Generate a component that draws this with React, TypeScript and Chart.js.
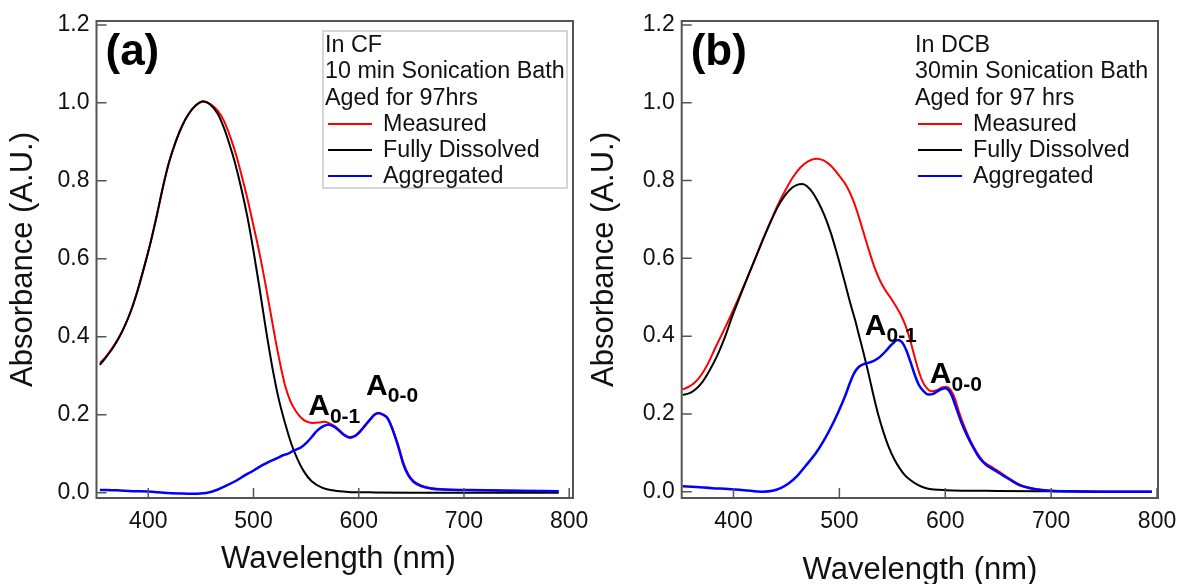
import React, { useEffect, useRef } from "react";
import { Chart, registerables } from "chart.js";

Chart.register(...registerables);

// ---------- Panel (a): In CF ----------
const aMeasuredX = [354, 360, 366, 372, 378, 384, 390, 396, 402, 408, 414, 420, 426, 432, 438, 445, 452, 459, 466, 472, 478, 484, 490, 495, 500, 506, 511, 516, 521, 525, 530, 535, 540, 545, 550, 556, 562, 567, 572, 577, 581, 586, 591, 596, 601, 606, 611, 615, 619, 623, 627, 631, 635, 639, 642, 647, 652, 660, 668, 680, 700, 750, 780, 790];
const aMeasuredY = [0.332, 0.35, 0.372, 0.398, 0.43, 0.47, 0.52, 0.578, 0.64, 0.71, 0.785, 0.85, 0.9, 0.94, 0.97, 0.993, 1.003, 0.997, 0.98, 0.953, 0.912, 0.862, 0.8, 0.745, 0.685, 0.61, 0.54, 0.465, 0.39, 0.335, 0.275, 0.235, 0.21, 0.193, 0.183, 0.179, 0.18, 0.182, 0.178, 0.171, 0.162, 0.15, 0.143, 0.146, 0.157, 0.173, 0.189, 0.201, 0.205, 0.201, 0.193, 0.172, 0.142, 0.108, 0.08, 0.048, 0.03, 0.018, 0.012, 0.009, 0.007, 0.005, 0.003, 0.004];

const aDissolvedX = [354, 360, 366, 372, 378, 384, 390, 396, 402, 408, 414, 420, 426, 432, 438, 445, 452, 459, 466, 472, 477, 482, 488, 494, 500, 506, 512, 518, 524, 530, 536, 542, 548, 555, 565, 575, 590, 610, 650, 700, 750, 790];
const aDissolvedY = [0.328, 0.348, 0.37, 0.397, 0.43, 0.47, 0.52, 0.578, 0.64, 0.71, 0.785, 0.85, 0.9, 0.94, 0.97, 0.993, 1.004, 0.995, 0.972, 0.935, 0.895, 0.85, 0.785, 0.71, 0.62, 0.52, 0.415, 0.32, 0.24, 0.178, 0.125, 0.085, 0.054, 0.03, 0.013, 0.006, 0.002, 0.001, 0.0, 0.0, 0.0, 0.0];

const aAggregatedX = [354, 370, 385, 400, 415, 430, 442, 455, 465, 474, 483, 491, 500, 508, 515, 522, 528, 533, 538, 545, 551, 556, 560, 566, 571, 576, 581, 586, 592, 597, 601, 606, 611, 615, 619, 623, 627, 631, 635, 639, 642, 647, 652, 660, 668, 680, 700, 750, 790];
const aAggregatedY = [0.007, 0.006, 0.004, 0.003, 0.0, -0.002, -0.003, -0.001, 0.007, 0.018, 0.03, 0.043, 0.057, 0.07, 0.08, 0.088, 0.096, 0.1, 0.108, 0.116, 0.13, 0.145, 0.158, 0.17, 0.174, 0.17, 0.16, 0.148, 0.141, 0.146, 0.156, 0.172, 0.188, 0.2, 0.204, 0.2, 0.192, 0.17, 0.14, 0.105, 0.076, 0.045, 0.028, 0.016, 0.011, 0.008, 0.007, 0.005, 0.004];

// ---------- Panel (b): In DCB ----------
const bMeasuredX = [352, 358, 364, 370, 376, 382, 390, 399, 408, 417, 426, 435, 442, 449, 456, 463, 470, 478, 485, 492, 500, 507, 513, 518, 523, 528, 533, 538, 543, 549, 554, 558, 562, 566, 570, 574, 578, 582, 587, 592, 597, 601, 605, 609, 613, 618, 624, 630, 636, 643, 650, 657, 664, 672, 680, 690, 700, 720, 750, 795];
const bMeasuredY = [0.263, 0.27, 0.282, 0.302, 0.33, 0.365, 0.41, 0.462, 0.518, 0.576, 0.637, 0.695, 0.738, 0.775, 0.808, 0.833, 0.849, 0.856, 0.852, 0.838, 0.812, 0.785, 0.75, 0.71, 0.665, 0.62, 0.578, 0.545, 0.52, 0.496, 0.474, 0.455, 0.43, 0.398, 0.358, 0.318, 0.287, 0.268, 0.258, 0.261, 0.268, 0.27, 0.262, 0.24, 0.205, 0.168, 0.13, 0.1, 0.078, 0.065, 0.053, 0.04, 0.028, 0.016, 0.01, 0.005, 0.003, 0.001, 0.0, 0.0];

const bDissolvedX = [352, 358, 364, 370, 377, 385, 392, 399, 408, 417, 426, 435, 442, 449, 455, 460, 465, 470, 475, 480, 486, 492, 499, 505, 510, 515, 519, 523, 527, 532, 537, 542, 547, 552, 557, 562, 567, 575, 582, 600, 650, 700, 750, 795];
const bDissolvedY = [0.249, 0.253, 0.263, 0.28, 0.31, 0.352, 0.398, 0.452, 0.515, 0.576, 0.636, 0.693, 0.733, 0.763, 0.781, 0.789, 0.791, 0.784, 0.768, 0.745, 0.71, 0.665, 0.6, 0.54, 0.488, 0.44, 0.397, 0.355, 0.31, 0.25, 0.195, 0.15, 0.112, 0.083, 0.06, 0.042, 0.03, 0.016, 0.009, 0.004, 0.002, 0.001, 0.0, 0.0];

const bAggregatedX = [352, 365, 380, 395, 410, 427, 438, 445, 452, 460, 468, 478, 485, 492, 499, 506, 510, 514, 518, 523, 528, 533, 538, 544, 550, 555, 559, 563, 567, 571, 575, 579, 584, 588, 592, 596, 600, 603, 606, 610, 615, 620, 626, 632, 639, 645, 652, 658, 664, 670, 680, 689, 700, 720, 750, 795];
const bAggregatedY = [0.014, 0.012, 0.009, 0.007, 0.004, 0.0, 0.003, 0.01, 0.021, 0.04, 0.066, 0.1, 0.13, 0.165, 0.205, 0.25, 0.28, 0.305, 0.32, 0.328, 0.332, 0.337, 0.346, 0.362, 0.38, 0.39, 0.385, 0.365, 0.335, 0.302, 0.275, 0.26, 0.25, 0.251, 0.257, 0.263, 0.266, 0.262, 0.248, 0.218, 0.18, 0.148, 0.116, 0.088, 0.068, 0.058, 0.046, 0.036, 0.026, 0.017, 0.009, 0.005, 0.002, 0.001, 0.0, 0.0];

// ---------- Shared ----------
const xTickValues = [400, 500, 600, 700, 800];
const yTickValues = [0, 0.2, 0.4, 0.6, 0.8, 1.0, 1.2];
const seriesNames = ["Measured", "Fully Dissolved", "Aggregated"];
const seriesColors = ["#ff0000", "#000000", "#0000ff"];
const seriesWidths = [2, 2, 2.5];
const aHeader = ["In CF", "10 min Sonication Bath", "Aged for 97hrs"];
const bHeader = ["In DCB", "30min Sonication Bath", "Aged for 97 hrs"];
// annotation anchors in data coordinates: [wavelength, absorbance, subscript]
const aPeakLabels: [number, number, string][] = [
  [552, 0.199, "0-1"],
  [607, 0.251, "0-0"],
];
const bPeakLabels: [number, number, string][] = [
  [524, 0.403, "0-1"],
  [585.4, 0.279, "0-0"],
];

const FONT = "'Liberation Sans', Arial, Helvetica, sans-serif";
const W = 590;
const H = 584;

type PanelCfg = {
  tag: string;
  header: string[];
  legendBox: boolean;
  series: { x: number[]; y: number[] }[];
  peaks: [number, number, string][];
  area: { left: number; right: number; top: number; bottom: number };
  xRange: [number, number];
  yRange: [number, number];
  xTitleX: number;
  xTitleY: number;
  yTitleX: number;
};

const panels: PanelCfg[] = [
  {
    tag: "(a)",
    header: aHeader,
    legendBox: true,
    series: [
      { x: aMeasuredX, y: aMeasuredY },
      { x: aDissolvedX, y: aDissolvedY },
      { x: aAggregatedX, y: aAggregatedY },
    ],
    peaks: aPeakLabels,
    area: { left: 96.5, right: 573, top: 21, bottom: 498 },
    xRange: [350.8, 803.6],
    yRange: [-0.0136, 1.21],
    xTitleX: 338.5,
    xTitleY: 568,
    yTitleX: 23,
  },
  {
    tag: "(b)",
    header: bHeader,
    legendBox: false,
    series: [
      { x: bMeasuredX, y: bMeasuredY },
      { x: bDissolvedX, y: bDissolvedY },
      { x: bAggregatedX, y: bAggregatedY },
    ],
    peaks: bPeakLabels,
    area: { left: 91.7, right: 568, top: 21, bottom: 498 },
    xRange: [351.1, 800.9],
    yRange: [-0.0162, 1.2103],
    xTitleX: 330,
    xTitleY: 579,
    yTitleX: 14.5,
  },
];

function makeDecor(p: PanelCfg) {
  return {
    id: "decor" + p.tag,
    afterDraw(chart: any) {
      const ctx = chart.ctx as CanvasRenderingContext2D;
      const { left, right, top, bottom } = chart.chartArea;
      const xs = chart.scales.x;
      const ys = chart.scales.y;
      ctx.save();
      // frame
      ctx.strokeStyle = "#555555";
      ctx.lineWidth = 2;
      ctx.strokeRect(left, top, right - left, bottom - top);
      // inward ticks
      ctx.lineWidth = 1.5;
      ctx.beginPath();
      xTickValues.forEach((v) => {
        const px = xs.getPixelForValue(v);
        ctx.moveTo(px, bottom);
        ctx.lineTo(px, bottom - 10);
      });
      yTickValues.forEach((v) => {
        const py = ys.getPixelForValue(v);
        ctx.moveTo(left, py);
        ctx.lineTo(left + 10, py);
      });
      ctx.stroke();

      // axis titles
      ctx.fillStyle = "#111";
      ctx.font = `31px ${FONT}`;
      ctx.textAlign = "center";
      ctx.textBaseline = "alphabetic";
      ctx.fillText("Wavelength (nm)", p.xTitleX, p.xTitleY);
      ctx.save();
      ctx.translate(p.yTitleX, (top + bottom) / 2);
      ctx.rotate(-Math.PI / 2);
      ctx.textBaseline = "middle";
      ctx.fillText("Absorbance (A.U.)", 0, 0);
      ctx.restore();

      // panel tag
      ctx.textAlign = "left";
      ctx.textBaseline = "alphabetic";
      ctx.fillStyle = "#000";
      ctx.font = `bold 44px ${FONT}`;
      ctx.fillText(p.tag, left + 9, top + 44);

      // legend
      if (p.legendBox) {
        ctx.strokeStyle = "#c8c8c8";
        ctx.lineWidth = 1.5;
        ctx.strokeRect(323, 31, 244, 157);
      }
      ctx.fillStyle = "#111";
      ctx.font = `23.3px ${FONT}`;
      const baselines = [52, 78, 105, 131, 157, 183];
      p.header.forEach((t, i) => ctx.fillText(t, 325, baselines[i]));
      seriesNames.forEach((name, i) => {
        const by = baselines[3 + i];
        ctx.strokeStyle = seriesColors[i];
        ctx.lineWidth = 2;
        ctx.beginPath();
        ctx.moveTo(328, by - 7);
        ctx.lineTo(372, by - 7);
        ctx.stroke();
        ctx.fillStyle = "#111";
        ctx.fillText(name, 383, by);
      });

      // peak annotations
      ctx.fillStyle = "#000";
      p.peaks.forEach(([wx, ay, sub]) => {
        const px = xs.getPixelForValue(wx);
        const py = ys.getPixelForValue(ay);
        ctx.font = `bold 30px ${FONT}`;
        ctx.fillText("A", px, py);
        const w = ctx.measureText("A").width;
        ctx.font = `bold 21px ${FONT}`;
        ctx.fillText(sub, px + w, py + 7.5);
      });
      ctx.restore();
    },
  };
}

function Panel({ cfg }: { cfg: PanelCfg }) {
  const ref = useRef<HTMLCanvasElement | null>(null);
  useEffect(() => {
    if (!ref.current) return;
    const order = [2, 1, 0]; // aggregated on top, then dissolved, then measured
    const datasets = order.map((i) => ({
      label: seriesNames[i],
      data: cfg.series[i].x.map((x, k) => ({ x, y: cfg.series[i].y[k] })),
      borderColor: seriesColors[i],
      backgroundColor: seriesColors[i],
      borderWidth: seriesWidths[i],
      pointRadius: 0,
      fill: false,
      cubicInterpolationMode: "monotone" as const,
    }));
    const a = cfg.area;
    const chart = new Chart(ref.current, {
      type: "line",
      data: { datasets },
      options: {
        responsive: false,
        animation: false,
        devicePixelRatio: 1,
        layout: { padding: { top: a.top, right: W - a.right, left: 0, bottom: 0 } },
        plugins: { legend: { display: false }, tooltip: { enabled: false } },
        scales: {
          x: {
            type: "linear",
            min: cfg.xRange[0],
            max: cfg.xRange[1],
            grid: { display: false, drawTicks: false },
            border: { display: false },
            afterBuildTicks: (s: any) => {
              s.ticks = xTickValues.map((v) => ({ value: v }));
            },
            afterFit: (s: any) => {
              s.height = H - a.bottom;
              s.paddingLeft = 0;
              s.paddingRight = 0;
            },
            ticks: {
              autoSkip: false,
              maxRotation: 0,
              padding: 10,
              color: "#111",
              font: { family: FONT, size: 23 },
              callback: (v: any) => String(v),
            },
          },
          y: {
            type: "linear",
            min: cfg.yRange[0],
            max: cfg.yRange[1],
            grid: { display: false, drawTicks: false },
            border: { display: false },
            afterBuildTicks: (s: any) => {
              s.ticks = yTickValues.map((v) => ({ value: v }));
            },
            afterFit: (s: any) => {
              s.width = a.left;
              s.paddingTop = 0;
              s.paddingBottom = 0;
            },
            ticks: {
              autoSkip: false,
              padding: 7,
              color: "#111",
              font: { family: FONT, size: 23 },
              callback: (v: any) => Number(v).toFixed(1),
            },
          },
        },
      },
      plugins: [makeDecor(cfg)],
    });
    return () => chart.destroy();
  }, [cfg]);
  return <canvas ref={ref} width={W} height={H} style={{ width: W, height: H, display: "block" }} />;
}

export default function App() {
  return (
    <div style={{ position: "absolute", left: 0, top: 0, width: 1180, height: 584, background: "#fff", display: "flex" }}>
      {panels.map((p) => (
        <Panel key={p.tag} cfg={p} />
      ))}
    </div>
  );
}
